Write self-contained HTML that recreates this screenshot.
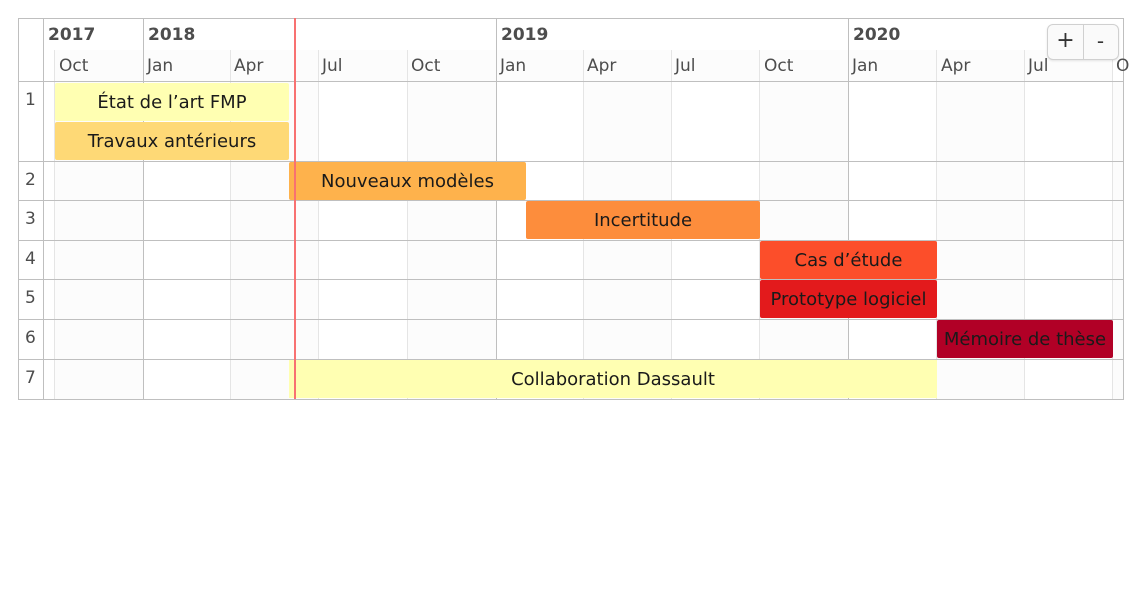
<!DOCTYPE html>
<html><head><meta charset="utf-8"><style>
body{margin:0;width:1141px;height:607px;background:#fff;position:relative;font-family:"DejaVu Sans","Liberation Sans",sans-serif;overflow:hidden}
.a{position:absolute}
.v{position:absolute;width:1px;background:#e5e5e5}
.V{position:absolute;width:1px;background:#bfbfbf}
.h{position:absolute;height:1px;background:#bfbfbf;left:18px;width:1105px}
.ml{position:absolute;top:56px;font-size:17px;color:#4d4d4d}
.yl{position:absolute;top:24px;font-size:17px;font-weight:bold;color:#4d4d4d}
.rl{position:absolute;left:25px;font-size:17px;color:#4d4d4d}
.it{position:absolute;border-radius:2px;font-size:18px;color:#1a1a1a;text-align:center;line-height:40px;white-space:nowrap;overflow:hidden}
.sh{position:absolute;background:#fcfcfc}
</style></head><body>
<div class="a" style="left:18px;top:18px;width:1104px;height:380px;border:1px solid #bfbfbf"></div>
<div class="sh" style="left:54px;top:50px;width:1058px;height:31px"></div>
<div class="sh" style="left:54px;top:82px;width:89px;height:317px"></div>
<div class="sh" style="left:230px;top:82px;width:88px;height:317px"></div>
<div class="sh" style="left:407px;top:82px;width:89px;height:317px"></div>
<div class="sh" style="left:583px;top:82px;width:88px;height:317px"></div>
<div class="sh" style="left:759px;top:82px;width:89px;height:317px"></div>
<div class="sh" style="left:936px;top:82px;width:88px;height:317px"></div>
<div class="sh" style="left:1112px;top:82px;width:11px;height:317px"></div>
<div class="v" style="left:54px;top:50px;height:349px"></div>
<div class="v" style="left:230px;top:50px;height:349px"></div>
<div class="v" style="left:318px;top:50px;height:349px"></div>
<div class="v" style="left:407px;top:50px;height:349px"></div>
<div class="v" style="left:583px;top:50px;height:349px"></div>
<div class="v" style="left:671px;top:50px;height:349px"></div>
<div class="v" style="left:759px;top:50px;height:349px"></div>
<div class="v" style="left:936px;top:50px;height:349px"></div>
<div class="v" style="left:1024px;top:50px;height:349px"></div>
<div class="v" style="left:1112px;top:50px;height:349px"></div>
<div class="V" style="left:43px;top:18px;height:381px"></div>
<div class="V" style="left:143px;top:18px;height:381px"></div>
<div class="V" style="left:496px;top:18px;height:381px"></div>
<div class="V" style="left:848px;top:18px;height:381px"></div>
<div class="h" style="top:81px"></div>
<div class="h" style="top:161px"></div>
<div class="h" style="top:200px"></div>
<div class="h" style="top:240px"></div>
<div class="h" style="top:279px"></div>
<div class="h" style="top:319px"></div>
<div class="h" style="top:359px"></div>
<div class="yl" style="left:48px;top:25px">2017</div>
<div class="yl" style="left:148px;top:25px">2018</div>
<div class="yl" style="left:501px;top:25px">2019</div>
<div class="yl" style="left:853px;top:25px">2020</div>
<div class="ml" style="left:59px">Oct</div>
<div class="ml" style="left:147px">Jan</div>
<div class="ml" style="left:234px">Apr</div>
<div class="ml" style="left:322px">Jul</div>
<div class="ml" style="left:411px">Oct</div>
<div class="ml" style="left:500px">Jan</div>
<div class="ml" style="left:587px">Apr</div>
<div class="ml" style="left:675px">Jul</div>
<div class="ml" style="left:764px">Oct</div>
<div class="ml" style="left:852px">Jan</div>
<div class="ml" style="left:941px">Apr</div>
<div class="ml" style="left:1028px">Jul</div>
<div class="ml" style="left:1116px">O</div>
<div class="rl" style="top:90px">1</div>
<div class="rl" style="top:170px">2</div>
<div class="rl" style="top:209px">3</div>
<div class="rl" style="top:249px">4</div>
<div class="rl" style="top:288px">5</div>
<div class="rl" style="top:328px">6</div>
<div class="rl" style="top:368px">7</div>
<div class="it" style="left:55px;top:83px;width:234px;height:38px;background:#ffffb2">État de l’art FMP</div>
<div class="it" style="left:55px;top:122px;width:234px;height:38px;background:#fed976">Travaux antérieurs</div>
<div class="it" style="left:289px;top:162px;width:237px;height:38px;background:#feb24c">Nouveaux modèles</div>
<div class="it" style="left:526px;top:201px;width:234px;height:38px;background:#fd8d3c">Incertitude</div>
<div class="it" style="left:760px;top:241px;width:177px;height:38px;background:#fc4e2a">Cas d’étude</div>
<div class="it" style="left:760px;top:280px;width:177px;height:38px;background:#e31a1c">Prototype logiciel</div>
<div class="it" style="left:937px;top:320px;width:176px;height:38px;background:#b10026">Mémoire de thèse</div>
<div class="it" style="left:289px;top:360px;width:648px;height:38px;background:#ffffb2;border-radius:0">Collaboration Dassault</div>
<div class="a" style="left:294px;top:18px;width:2px;height:381px;background:#f87171"></div>
<div class="a" style="left:1047px;top:24px;width:70px;height:34px;border:1px solid #d0d0d0;border-radius:6px;background:#fafafa;box-shadow:0 1px 2px rgba(0,0,0,.1)"></div>
<div class="a" style="left:1083px;top:25px;width:1px;height:34px;background:#d0d0d0"></div>
<div class="a" style="left:1048px;top:28px;width:35px;text-align:center;font-size:22px;color:#333">+</div>
<div class="a" style="left:1084px;top:29px;width:33px;text-align:center;font-size:20px;color:#333">-</div>
</body></html>
